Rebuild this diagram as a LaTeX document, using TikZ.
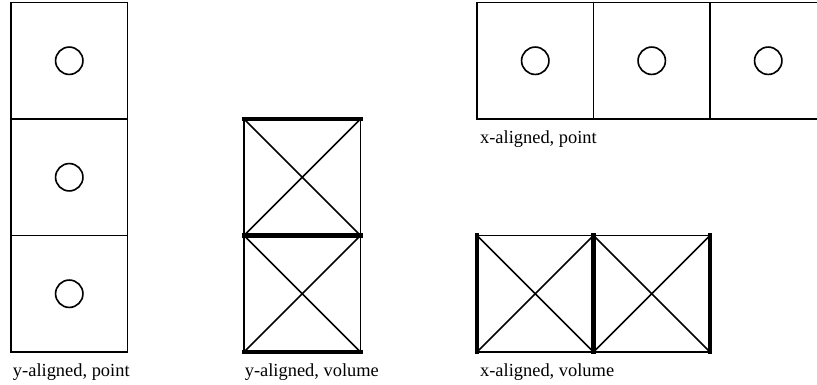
\documentclass[tikz,border=0pt]{standalone}
\usepackage{fontspec}
\setmainfont{Liberation Serif}
\usetikzlibrary{positioning, calc}
\tikzset{cell/.style={draw, rectangle, minimum size=2cm, inner sep=0pt, outer sep=0pt}}
\tikzset{hole/.style={draw, circle, minimum size=0.47cm, inner sep=0pt}}
\tikzset{face/.style={line width=2.2pt, line cap=rect}}
\tikzset{caption/.style={anchor=base west, inner sep=0pt, font=\fontsize{9}{11}\selectfont}}

\begin{document}
\begin{tikzpicture}[node distance=0pt, line width=0.8pt]
\useasboundingbox (-1.189,1.043) rectangle (12.837,-5.566);

% y-aligned, point
\node[cell] (A1) at (0,0) {};
\node[cell, below=of A1] (A2) {};
\node[cell, below=of A2] (A3) {};
\foreach \n in {1,2,3}{
    \node[hole] (H\n) at (A\n) {};
}
\node[caption] (La) at ($(A3.south west)+(0.02,-0.42)$) {y-aligned, point};

% y-aligned, volume
\node[cell, right=2cm of A2] (B1) {};
\node[cell, below=of B1] (B2) {};
\foreach \n in {1,2}{
    \draw (B\n.north west) -- (B\n.south east);
    \draw (B\n.south west) -- (B\n.north east);
    \draw[face] (B\n.north west) -- (B\n.north east);
    \draw[face] (B\n.south west) -- (B\n.south east);
}
\node[caption] (Lb) at ($(B2.south west)+(0.0,-0.42)$) {y-aligned, volume};

% x-aligned, point
\node[cell, right=6cm of A1] (C1) {};
\node[cell, right=of C1] (C2) {};
\node[cell, right=of C2] (C3) {};
\foreach \n in {1,2,3}{
    \node[hole] (K\n) at (C\n) {};
}
\node[caption] (Lc) at ($(C1.south west)+(0.04,-0.42)$) {x-aligned, point};

% x-aligned, volume
\node[cell, right=2cm of B2] (D1) {};
\node[cell, right=of D1] (D2) {};
\foreach \n in {1,2}{
    \draw (D\n.north west) -- (D\n.south east);
    \draw (D\n.south west) -- (D\n.north east);
    \draw[face] (D\n.north west) -- (D\n.south west);
    \draw[face] (D\n.north east) -- (D\n.south east);
}
\node[caption] (Ld) at ($(D1.south west)+(0.04,-0.42)$) {x-aligned, volume};
\end{tikzpicture}
\end{document}
